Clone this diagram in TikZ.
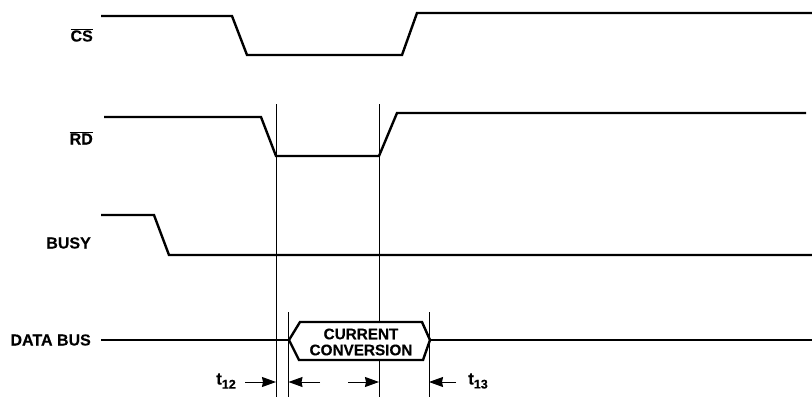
\documentclass[tikz,border=0pt]{standalone}
\usepackage{fontspec}
\setmainfont[BoldFeatures={FakeBold=0.3}]{Liberation Sans}
\usetikzlibrary{arrows.meta}
\newcommand{\subnum}[1]{\raisebox{-4pt}{\fontsize{12.5}{14}\bfseries\selectfont #1}}
\tikzset{
  wave/.style={line width=2.4pt,line join=miter,black},
  guide/.style={line width=1pt,black},
  dim/.style={line width=1pt,black,-{Stealth[length=14pt,width=10pt,inset=1pt]}},
  siglabel/.style={font=\fontsize{16}{18}\bfseries\selectfont,inner sep=0pt,anchor=east},
  lbl/.style={font=\fontsize{15.3}{16}\bfseries\selectfont,inner sep=0pt,align=center},
  tlbl/.style={font=\fontsize{17}{18}\bfseries\selectfont,inner sep=0pt}
}
\begin{document}
\begin{tikzpicture}[x=1pt,y=-1pt]
\useasboundingbox (0,0) rectangle (812,397);
% guides
\coordinate (g1t) at (276,104); \coordinate (g1b) at (276,397);
\coordinate (g2t) at (379,104); \coordinate (g2b) at (379,397);
\coordinate (g3t) at (288.5,312); \coordinate (g3b) at (288.5,397);
\coordinate (g4t) at (429,312); \coordinate (g4b) at (429,397);
\draw[guide] (g1t) -- (g1b);
\draw[guide] (g2t) -- (g2b);
\draw[guide] (g3t) -- (g3b);
\draw[guide] (g4t) -- (g4b);
% waveforms
\draw[wave] (101,16) -- (232,16) -- (247,55) -- (402,55) -- (417,13) -- (812,13);
\draw[wave] (104,117) -- (261,117) -- (276,156) -- (379,156) -- (397,113) -- (806,113);
\draw[wave] (101,215) -- (154,215) -- (169,255) -- (812,255);
% data bus
\coordinate (busL) at (101,340);
\coordinate (tipL) at (289,340);
\coordinate (tipR) at (430,340);
\coordinate (busR) at (812,340);
\draw[wave] (busL) -- (tipL);
\draw[wave,fill=white] (tipL) -- (300,322) -- (422,322) -- (tipR) -- (423,360) -- (299,360) -- cycle;
\draw[wave] (tipR) -- (busR);
% dimension arrows
\coordinate (a1s) at (245,382); \coordinate (a1e) at (276,382);
\coordinate (a2s) at (320,382); \coordinate (a2e) at (288.5,382);
\coordinate (a3s) at (348,382); \coordinate (a3e) at (379,382);
\coordinate (a4s) at (456,382); \coordinate (a4e) at (429,382);
\draw[dim] (a1s) -- (a1e);
\draw[dim] (a2s) -- (a2e);
\draw[dim] (a3s) -- (a3e);
\draw[dim] (a4s) -- (a4e);
% labels
\node[siglabel] (cs) at (93,35) {$\overline{\hbox{CS}}$};
\node[siglabel] (rd) at (93,138) {$\overline{\hbox{RD}}$};
\node[siglabel] (busy) at (91,243) {BUSY};
\node[siglabel] (data) at (91,340) {DATA BUS};
\node[lbl] (cc) at (361,342) {CURRENT\\CONVERSION};
\node[tlbl,anchor=west] (t12) at (216,381) {t\subnum{12}};
\node[tlbl,anchor=west] (t13) at (468,381) {t\subnum{13}};
\end{tikzpicture}
\end{document}
